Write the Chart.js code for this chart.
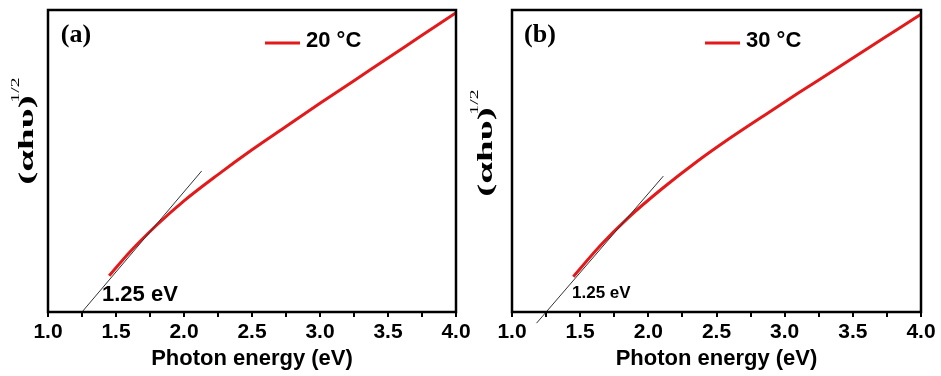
<!DOCTYPE html>
<html>
<head>
<meta charset="utf-8">
<script src="https://cdn.jsdelivr.net/npm/chart.js@4.4.1/dist/chart.umd.min.js"></script>
<style>
  html, body { margin: 0; padding: 0; background: #fff; }
  #wrap { position: relative; width: 941px; height: 376px; overflow: hidden; }
  canvas { position: absolute; top: 0; }
  #panelA { left: 0; }
  #panelB { left: 470px; }
</style>
</head>
<body>
<div id="wrap">
  <canvas id="panelA" width="480" height="376"></canvas>
  <canvas id="panelB" width="471" height="376"></canvas>
</div>
<script>
// panel (a), 20 C
const energyA = [1.45, 1.6, 1.8, 2.0, 2.25, 2.5, 2.75, 3.0, 3.25, 3.5, 3.75, 4.0];
const absA = [12.0, 19.8, 28.8, 36.8, 45.5, 53.7, 61.4, 69.1, 76.6, 84.1, 91.6, 99.1];
const tangentXA = [1.25, 2.13];
const tangentYA = [0, 46.7];

// panel (b), 30 C
const energyB = [1.45, 1.65, 1.85, 2.1, 2.35, 2.6, 2.85, 3.1, 3.35, 3.6, 3.8, 4.0];
const absB = [11.7, 22.1, 31.1, 40.8, 49.6, 57.6, 65.1, 72.5, 79.7, 87.0, 92.8, 98.6];
const tangentXB = [1.18, 2.11];
const tangentYB = [-3.7, 45.0];

const xMin = 1.0;
const xMax = 4.0;
const xStep = 0.25;

const RED = '#e31a1c';
const SANS = '"Liberation Sans", Arial, sans-serif';
const SERIF = '"Liberation Serif", "Times New Roman", serif';

const toPoints = (xs, ys) => xs.map((x, i) => ({ x: x, y: ys[i] }));

// frame, legend, labels drawn on top of the chart
const decorPlugin = {
    id: 'decor',
    afterDraw(chart, args, o) {
        const { ctx, chartArea: a } = chart;
        ctx.save();
        ctx.strokeStyle = '#000';
        ctx.lineWidth = 2.5;
        ctx.strokeRect(a.left, a.top, a.right - a.left, a.bottom - a.top);

        // legend
        ctx.strokeStyle = RED;
        ctx.lineWidth = 3;
        ctx.beginPath();
        ctx.moveTo(o.legendX, 43);
        ctx.lineTo(o.legendX + 35, 43);
        ctx.stroke();
        ctx.fillStyle = '#000';
        ctx.textBaseline = 'middle';
        ctx.textAlign = 'left';
        ctx.font = `bold 22px ${SANS}`;
        ctx.fillText(o.legend, o.legendX + 41, 41);

        // panel letter
        ctx.textAlign = 'center';
        ctx.font = `bold 26px ${SERIF}`;
        ctx.fillText(o.letter, o.letterX, 35);

        // band gap label
        ctx.textAlign = 'left';
        ctx.font = `bold ${o.gapSize}px ${SANS}`;
        ctx.fillText('1.25 eV', 102, o.gapY);

        // y title, rotated and squeezed like the original figure
        ctx.save();
        ctx.translate(o.yLabelX, o.yLabelY);
        ctx.rotate(-Math.PI / 2);
        ctx.scale(1.3, 0.68);
        ctx.textAlign = 'center';
        ctx.font = `bold 30px ${SERIF}`;
        ctx.fillText('(\u03b1h\u03c5)', 0, 0);
        ctx.restore();
        ctx.save();
        ctx.translate(o.yLabelX - 12, o.yLabelY - 50);
        ctx.rotate(-Math.PI / 2);
        ctx.scale(1.1, 0.7);
        ctx.textAlign = 'center';
        ctx.font = `18px ${SERIF}`;
        ctx.fillText('1/2', 0, 0);
        ctx.restore();
        ctx.restore();
    }
};

const makePanel = (canvasId, xs, ys, tx, ty, pad, decor) => {
    return new Chart(document.getElementById(canvasId), {
        type: 'line',
        data: {
            datasets: [
                {
                    label: 'tangent',
                    data: toPoints(tx, ty),
                    borderColor: '#333',
                    borderWidth: 1,
                    pointRadius: 0,
                    clip: false,
                },
                {
                    label: decor.legend,
                    data: toPoints(xs, ys),
                    borderColor: RED,
                    borderWidth: 3,
                    pointRadius: 0,
                    cubicInterpolationMode: 'monotone',
                },
            ]
        },
        options: {
            responsive: false,
            animation: false,
            devicePixelRatio: 1,
            layout: { padding: pad },
            plugins: {
                legend: { display: false },
                tooltip: { enabled: false },
                decor: decor,
            },
            scales: {
                x: {
                    type: 'linear',
                    min: xMin,
                    max: xMax,
                    afterFit(scale) {
                        scale.height = 64;
                    },
                    ticks: {
                        stepSize: xStep,
                        autoSkip: false,
                        maxRotation: 0,
                        color: '#000',
                        padding: 3,
                        font: { family: SANS, weight: 'bold', size: 21 },
                        callback: (v) => (Math.round(v * 100) % 50 === 0 ? v.toFixed(1) : ''),
                    },
                    grid: {
                        drawOnChartArea: false,
                        drawTicks: true,
                        tickLength: 5,
                        color: '#000',
                        lineWidth: 2,
                    },
                    border: { display: false },
                    title: {
                        display: true,
                        text: 'Photon energy (eV)',
                        color: '#000',
                        font: { family: SANS, weight: 'bold', size: 22 },
                        padding: { top: 0, bottom: 4 },
                    },
                },
                y: {
                    display: false,
                    min: 0,
                    max: 100,
                },
            },
        },
        plugins: [decorPlugin],
    });
};

makePanel('panelA', energyA, absA, tangentXA, tangentYA,
    { left: 48, right: 24, top: 10, bottom: 0 },
    { legend: '20 \u00b0C', legendX: 265, letter: '(a)', letterX: 76, gapSize: 22, gapY: 295, yLabelX: 28, yLabelY: 140 });

makePanel('panelB', energyB, absB, tangentXB, tangentYB,
    { left: 42, right: 20, top: 10, bottom: 0 },
    { legend: '30 \u00b0C', legendX: 235, letter: '(b)', letterX: 70, gapSize: 17, gapY: 293, yLabelX: 17, yLabelY: 152 });
</script>
</body>
</html>
